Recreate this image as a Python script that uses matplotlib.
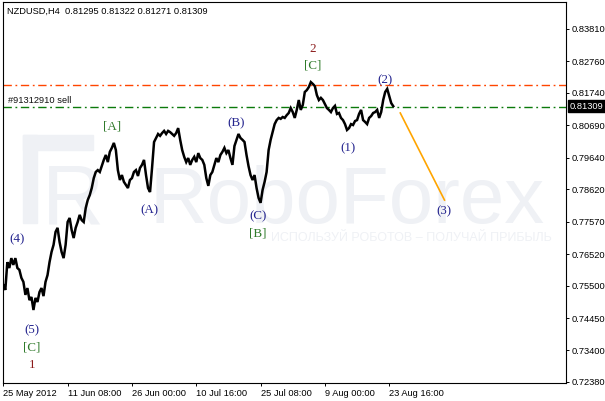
import matplotlib
matplotlib.use("Agg")
import matplotlib.pyplot as plt
from matplotlib.patches import Rectangle
import numpy as np

# ---- data -------------------------------------------------------------
symbol_title = "NZDUSD,H4  0.81295 0.81322 0.81271 0.81309"

# close prices sampled every 2 H4 bars (bar 0 = 25 May 2012)
closes = [
    0.7552, 0.7536, 0.7626, 0.7607, 0.7639, 0.7617, 0.7639, 0.7607, 0.7601, 0.7575,
    0.7562, 0.7520, 0.7542, 0.7503, 0.7513, 0.7471, 0.7510, 0.7497, 0.7529, 0.7542,
    0.7516, 0.7562, 0.7584, 0.7626, 0.7659, 0.7682, 0.7724, 0.7737, 0.7691, 0.7659,
    0.7639, 0.7682, 0.7756, 0.7769, 0.7730, 0.7704, 0.7737, 0.7756, 0.7779, 0.7762,
    0.7756, 0.7801, 0.7827, 0.7843, 0.7866, 0.7898, 0.7918, 0.7924, 0.7918, 0.7937,
    0.7957, 0.7973, 0.7950, 0.7983, 0.7996, 0.8012, 0.7989, 0.7924, 0.7892, 0.7908,
    0.7886, 0.7876, 0.7866, 0.7892, 0.7898, 0.7918, 0.7924, 0.7905, 0.7931, 0.7941,
    0.7957, 0.7908, 0.7866, 0.7853, 0.7931, 0.8015, 0.8028, 0.8041, 0.8035, 0.8044,
    0.8051, 0.8041, 0.8051, 0.8047, 0.8041, 0.8035, 0.8044, 0.8060, 0.8022, 0.7989,
    0.7967, 0.7950, 0.7963, 0.7941, 0.7957, 0.7967, 0.7950, 0.7979, 0.7963, 0.7957,
    0.7941, 0.7898, 0.7873, 0.7908, 0.7918, 0.7941, 0.7963, 0.7950, 0.7973, 0.7983,
    0.7996, 0.7979, 0.7989, 0.7963, 0.7941, 0.8002, 0.8022, 0.8041, 0.8028, 0.8022,
    0.8015, 0.7973, 0.7937, 0.7908, 0.7892, 0.7908, 0.7866, 0.7834, 0.7818, 0.7860,
    0.7886, 0.7918, 0.7989, 0.8022, 0.8047, 0.8073, 0.8086, 0.8093, 0.8090, 0.8096,
    0.8093, 0.8102, 0.8109, 0.8125, 0.8112, 0.8093, 0.8119, 0.8151, 0.8119, 0.8135,
    0.8177, 0.8183, 0.8193, 0.8209, 0.8203, 0.8196, 0.8167, 0.8151, 0.8158, 0.8151,
    0.8138, 0.8125, 0.8119, 0.8112, 0.8125, 0.8132, 0.8106, 0.8109, 0.8093, 0.8086,
    0.8073, 0.8054, 0.8060, 0.8073, 0.8070, 0.8083, 0.8086, 0.8106, 0.8119, 0.8086,
    0.8080, 0.8073, 0.8093, 0.8099, 0.8109, 0.8112, 0.8119, 0.8093, 0.8112, 0.8151,
    0.8177, 0.8187, 0.8164, 0.8141, 0.8131,
]
bar_step = 2

# forecast trend line (wave (2) -> (3))
trend_bars = [395, 439]
trend_prices = [0.8109, 0.7827]

# horizontal levels
resistance_level = 0.8199
sell_level = 0.8128
last_price = 0.81309
sell_label = "#91312910 sell"

# axis ticks
x_tick_bars = [0, 64, 128, 192, 256, 320, 384]
x_tick_labels = ["25 May 2012", "11 Jun 08:00", "26 Jun 00:00", "10 Jul 16:00",
                 "25 Jul 08:00", "9 Aug 00:00", "23 Aug 16:00"]
y_ticks = [0.72380, 0.73400, 0.74450, 0.75500, 0.76520, 0.77570,
           0.78620, 0.79640, 0.80690, 0.81740, 0.82760, 0.83810]

# wave labels: text, bar, price, kind
wave_texts = ["(4)", "(5)", "[C]", "1", "[A]", "(A)", "(B)", "(C)", "[B]",
              "2", "[C]", "(1)", "(2)", "(3)"]
wave_bars = [13.6, 28.6, 28.6, 28.6, 108, 145, 231.5, 253.4, 253.4,
             308, 308, 343, 380, 438.5]
wave_prices = [0.7701, 0.7405, 0.7350, 0.7294, 0.8064, 0.7795, 0.8077, 0.7776,
               0.7719, 0.8317, 0.8263, 0.7996, 0.8216, 0.7792]
wave_kinds = ["minor", "minor", "inter", "major", "inter", "minor", "minor", "minor",
              "inter", "major", "inter", "minor", "minor", "minor"]

# ---- styling ----------------------------------------------------------
W, H = 605, 401
plt.rcParams['font.family'] = ['Liberation Sans', 'DejaVu Sans']
plt.rcParams['lines.scale_dashes'] = False
fs = 6.7
kind_colors = {"minor": "#25258f", "inter": "#2f7a2a", "major": "#8b1a1a"}
wm_color = "#eff1f5"

fig = plt.figure(figsize=(W / 100, H / 100), dpi=100)
fig.patch.set_facecolor("white")
ax = fig.add_axes([2.5 / W, 18 / H, 563.2 / W, 381 / H])
ax.set_facecolor("white")

xmin, xmax = -0.8, 559.6
ymin, ymax = 0.72346, 0.84684
ax.set_xlim(xmin, xmax)
ax.set_ylim(ymin, ymax)
ax.set_autoscale_on(False)

# ---- watermark (figure pixel coordinates, drawn inside the axes) -------
def fx(px):
    return px / W

def fy(py):
    return 1 - py / H

ftr = fig.transFigure
ax.add_patch(Rectangle((fx(23), fy(223)), 14 / W, 88 / H, transform=ftr,
                       color=wm_color, zorder=0.5, clip_on=False))
ax.add_patch(Rectangle((fx(23), fy(150)), 70 / W, 15 / H, transform=ftr,
                       color=wm_color, zorder=0.5, clip_on=False))
ax.text(fx(42), fy(223), "R", fontsize=62, color=wm_color, ha="left",
        va="baseline", zorder=0.6, transform=ftr, family=["Liberation Sans"])
ax.text(fx(150), fy(223), "RoboForex", fontsize=57.5, color=wm_color, ha="left",
        va="baseline", zorder=0.6, transform=ftr, family=["Liberation Sans"])
ax.text(fx(552), fy(238), "ИСПОЛЬЗУЙ РОБОТОВ – ПОЛУЧАЙ ПРИБЫЛЬ", fontsize=9,
        color=wm_color, ha="right", va="center", zorder=0.6, transform=ftr)

# ---- levels -----------------------------------------------------------
ax.axhline(resistance_level, color="#ff4500", lw=1.0, dashes=(6, 2.6, 1.3, 2.6), zorder=2)
ax.axhline(sell_level, color="#0b7a0b", lw=1.0, dashes=(6, 2.6, 1.3, 2.6), zorder=2)
ax.text(4.7, 0.8149, sell_label, fontsize=fs, color="#111111", ha="left", va="center",
        zorder=3)

# ---- price line -------------------------------------------------------
bars = np.arange(len(closes)) * bar_step
ax.plot(bars, closes, color="black", lw=1.8, zorder=4, solid_joinstyle="miter")

# forecast line
ax.plot(trend_bars, trend_prices, color="#ffa500", lw=1.2, zorder=4)

# wave labels
for t, b, p, k in zip(wave_texts, wave_bars, wave_prices, wave_kinds):
    ax.text(b, p, t, fontsize=9.4, color=kind_colors[k], ha="center", va="center",
            family=["Liberation Serif", "DejaVu Serif"], zorder=5)

# ---- axes -------------------------------------------------------------
for s in ax.spines.values():
    s.set_linewidth(0.8)
    s.set_color("black")

ax.yaxis.tick_right()
ax.set_yticks(y_ticks)
ax.set_yticklabels([f"{v:.5f}" for v in y_ticks])
ax.tick_params(axis="y", direction="out", length=2.4, width=0.7, pad=2.2,
               labelsize=fs, colors="black")

ax.set_xticks(x_tick_bars)
ax.set_xticklabels(x_tick_labels)
ax.tick_params(axis="x", direction="out", length=2.4, width=0.7, pad=2.0,
               labelsize=fs, colors="black")
for lab in ax.get_xticklabels():
    lab.set_ha("left")

# last price box
ax.annotate(f"{last_price:.5f}", xy=(1, last_price), xycoords=("axes fraction", "data"),
            xytext=(2.6, 0), textcoords="offset points", ha="left", va="center",
            fontsize=fs, color="white",
            bbox=dict(boxstyle="square,pad=0.18", fc="black", ec="black"),
            annotation_clip=False, zorder=6)

fig.text(fx(7), fy(11), symbol_title, fontsize=fs, color="black", ha="left", va="center")

fig.savefig("out.png", dpi=100, facecolor="white")
